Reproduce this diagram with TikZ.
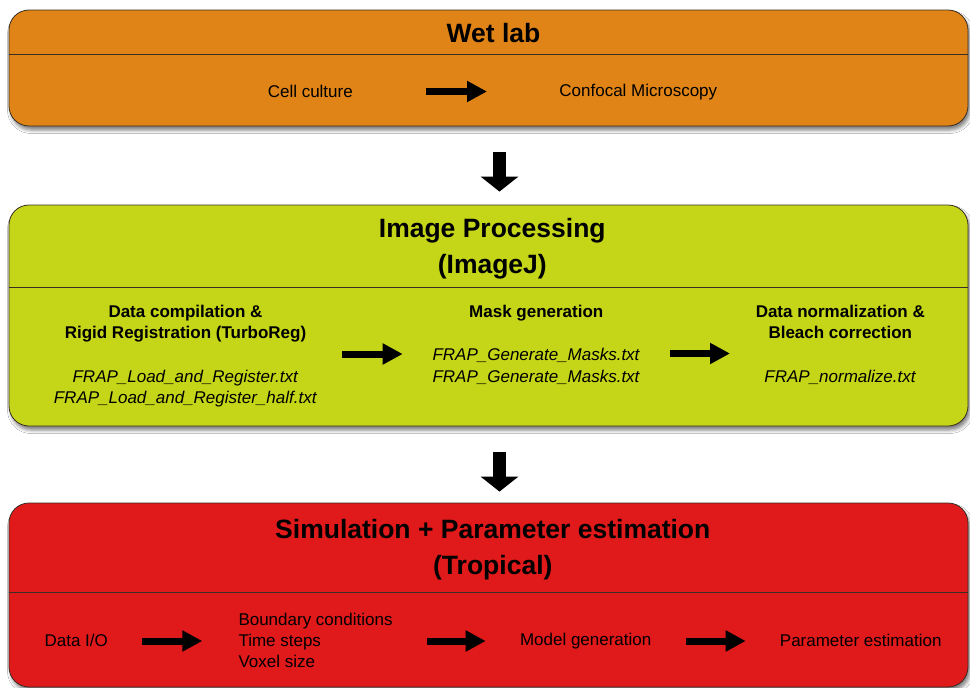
\documentclass[tikz,border=0pt]{standalone}
\usepackage{fontspec}
\setmainfont{Liberation Sans}
\usetikzlibrary{arrows.meta,shadows.blur}
\definecolor{wetc}{HTML}{E08418}
\definecolor{ipc}{HTML}{C5D518}
\definecolor{simc}{HTML}{E0191A}
\definecolor{edgec}{HTML}{3A2E24}
\newcommand\ctrlines[1]{\begin{tabular}[t]{@{}c@{}}#1\end{tabular}}
\newcommand\lftlines[1]{\begin{tabular}[t]{@{}l@{}}#1\end{tabular}}
\tikzset{
  panel/.style={draw=edgec, line width=0.8pt, rounded corners=20pt, inner sep=0pt,
    blur shadow={shadow xshift=2pt, shadow yshift=-4pt, shadow blur radius=3.5pt, shadow opacity=50}},
  divider/.style={draw=edgec, line width=0.8pt},
  titletext/.style={anchor=base, inner sep=0pt, font=\fontsize{26.5}{36}\selectfont\bfseries},
  bodytext/.style={anchor=base, inner sep=0pt, font=\fontsize{17}{21.7}\selectfont},
  listtext/.style={anchor=base west, inner sep=0pt, font=\fontsize{17}{20.8}\selectfont},
  harrow/.style={line width=7pt, -{Triangle[length=20pt,width=20pt]}},
  varrow/.style={line width=13pt, -{Triangle[length=15pt,width=37pt]}},
}
\begin{document}
\begin{tikzpicture}[x=1pt,y=-1pt]
\useasboundingbox (0,0) rectangle (970,688);
\fill[white] (0,0) rectangle (970,688);
\clip (0,0) rectangle (970,688);

% panels
\node[panel, fill=wetc, minimum width=959pt, minimum height=116pt] (wet) at (488.5,68) {};
\node[panel, fill=ipc, minimum width=959pt, minimum height=221pt] (ip) at (488.5,315.5) {};
\node[panel, fill=simc, minimum width=959pt, minimum height=184pt] (sim) at (488.5,595) {};

\draw[divider] (wet.west |- 0,54) -- (wet.east |- 0,54);
\draw[divider] (ip.west |- 0,287) -- (ip.east |- 0,287);
\draw[divider] (sim.west |- 0,592) -- (sim.east |- 0,592);

% titles
\node[titletext] (wett) at (493.5,42) {Wet lab};
\node[titletext] (ipt) at (492.3,237) {\ctrlines{Image Processing\\(ImageJ)}};
\node[titletext] (simt) at (492.8,538) {\ctrlines{Simulation + Parameter estimation\\(Tropical)}};

% wet lab row
\node[bodytext] (cc) at (310.3,97.7) {Cell culture};
\node[bodytext] (cm) at (638.3,96) {Confocal Microscopy};
\coordinate (w1s) at (426,91.5);
\coordinate (w1e) at (487,91.5);
\draw[harrow] (w1s) -- (w1e);

% image processing row
\node[bodytext] (dc) at (185.5,317) {\ctrlines{\textbf{Data compilation \&}\\\textbf{Rigid Registration (TurboReg)}\\ \\\textit{FRAP\_Load\_and\_Register.txt}\\\textit{FRAP\_Load\_and\_Register\_half.txt}}};
\node[bodytext] (mg) at (536.3,317) {\ctrlines{\textbf{Mask generation}\\ \\\textit{FRAP\_Generate\_Masks.txt}\\\textit{FRAP\_Generate\_Masks.txt}}};
\node[bodytext] (dn) at (840.3,317) {\ctrlines{\textbf{Data normalization \&}\\\textbf{Bleach correction}\\ \\\textit{FRAP\_normalize.txt}}};
\coordinate (i1s) at (341.7,354);
\coordinate (i1e) at (402.7,354);
\coordinate (i2s) at (670,353.5);
\coordinate (i2e) at (730,353.5);
\draw[harrow] (i1s) -- (i1e);
\draw[harrow] (i2s) -- (i2e);

% simulation row
\node[bodytext] (dio) at (76.2,646.7) {Data I/O};
\node[listtext] (bc) at (238.3,625.7) {\lftlines{Boundary conditions\\Time steps\\Voxel size}};
\node[bodytext] (mod) at (585.7,645) {Model generation};
\node[bodytext] (pe) at (860.7,646.7) {Parameter estimation};
\coordinate (s1s) at (142.3,641);
\coordinate (s1e) at (202.3,641);
\coordinate (s2s) at (426.7,641);
\coordinate (s2e) at (485.7,641);
\coordinate (s3s) at (685.7,641);
\coordinate (s3e) at (745.7,641);
\draw[harrow] (s1s) -- (s1e);
\draw[harrow] (s2s) -- (s2e);
\draw[harrow] (s3s) -- (s3e);

% down arrows between panels
\draw[varrow, shorten <=26pt, shorten >=13pt] ([xshift=11pt]wet.south) -- ([xshift=11pt]ip.north);
\draw[varrow, shorten <=26pt, shorten >=11pt] ([xshift=11pt]ip.south) -- ([xshift=11pt]sim.north);
\end{tikzpicture}
\end{document}
